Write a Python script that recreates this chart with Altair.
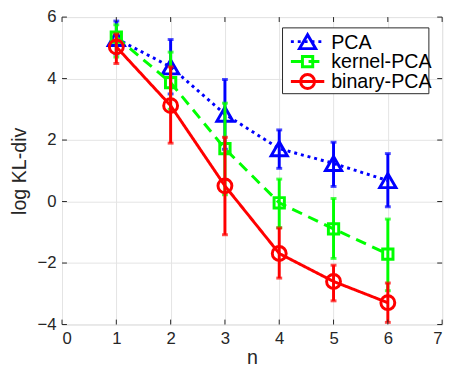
import altair as alt
import pandas as pd

n = [1, 2, 3, 4, 5, 6]
series_names = ["PCA", "kernel-PCA", "binary-PCA"]
pca_mean = [5.30, 4.38, 2.84, 1.72, 1.24, 0.68]
pca_lo = [4.80, 3.50, 1.70, 1.08, 0.49, -0.17]
pca_hi = [5.87, 5.27, 3.97, 2.33, 1.93, 1.56]
kpca_mean = [5.35, 3.87, 1.72, -0.04, -0.89, -1.71]
kpca_lo = [4.70, 3.00, 0.22, -0.85, -1.85, -2.90]
kpca_hi = [5.75, 4.86, 3.20, 0.73, 0.10, -0.57]
bpca_mean = [5.03, 3.12, 0.51, -1.69, -2.60, -3.29]
bpca_lo = [4.49, 1.90, -1.08, -2.49, -3.23, -3.93]
bpca_hi = [5.45, 4.38, 2.09, -0.86, -2.07, -2.65]
x_ticks = [0, 1, 2, 3, 4, 5, 6, 7]
y_ticks = [-4, -2, 0, 2, 4, 6]

W, H = 387, 313
FONT = "Liberation Sans"
TXT = "#262626"

styles = {
    "PCA": dict(color="#0000ff", dash=[3, 4], shape="triangle-up", size=270),
    "kernel-PCA": dict(color="#00ff00", dash=[11, 7], shape="square", size=110),
    "binary-PCA": dict(color="#ff0000", dash=[1, 0], shape="circle", size=200),
}
means = [pca_mean, kpca_mean, bpca_mean]
los = [pca_lo, kpca_lo, bpca_lo]
his = [pca_hi, kpca_hi, bpca_hi]

xs = alt.Scale(domain=[0, 7], nice=False, zero=False)
ys = alt.Scale(domain=[-4, 6], nice=False, zero=False)

xaxis = alt.Axis(values=x_ticks, grid=True, gridColor="#e3e3e3", domain=False, ticks=False,
                 labelFont=FONT, labelFontSize=17, labelColor=TXT, labelPadding=6,
                 title="n", titleFont=FONT, titleFontSize=20, titleFontWeight="normal",
                 titleColor=TXT, titlePadding=2, format="d")
yaxis = alt.Axis(values=y_ticks, grid=True, gridColor="#e3e3e3", domain=False, ticks=False,
                 labelFont=FONT, labelFontSize=17, labelColor=TXT, labelPadding=6,
                 title="log KL-div", titleFont=FONT, titleFontSize=20, titleFontWeight="normal",
                 titleColor=TXT, titlePadding=8, format="d")

layers = []
axis_df = pd.DataFrame({"n": [0], "v": [0]})
layers.append(alt.Chart(axis_df).mark_point(opacity=0).encode(
    x=alt.X("n:Q", scale=xs, axis=xaxis), y=alt.Y("v:Q", scale=ys, axis=yaxis)))

for name, m, lo, hi in zip(series_names, means, los, his):
    st = styles[name]
    df = pd.DataFrame({"n": n, "mean": m, "lo": lo, "hi": hi})
    base = alt.Chart(df)
    layers.append(base.mark_rule(color=st["color"], strokeWidth=3).encode(
        x=alt.X("n:Q", scale=xs), y=alt.Y("lo:Q", scale=ys), y2="hi:Q"))
    for col in ["lo", "hi"]:
        layers.append(base.mark_tick(color=st["color"], orient="horizontal", size=6, thickness=3).encode(
            x=alt.X("n:Q", scale=xs), y=alt.Y(f"{col}:Q", scale=ys)))
    layers.append(base.mark_line(color=st["color"], strokeWidth=3, strokeDash=st["dash"]).encode(
        x=alt.X("n:Q", scale=xs), y=alt.Y("mean:Q", scale=ys)))
    layers.append(base.mark_point(color=st["color"], shape=st["shape"], size=st["size"],
                                  filled=False, strokeWidth=3, opacity=1).encode(
        x=alt.X("n:Q", scale=xs), y=alt.Y("mean:Q", scale=ys)))

xt = pd.DataFrame({"t": x_ticks})
yt = pd.DataFrame({"t": y_ticks})
layers.append(alt.Chart(xt).mark_rule(color=TXT, strokeWidth=1).encode(
    x=alt.X("t:Q", scale=xs), y=alt.value(H), y2=alt.value(H - 5)))
layers.append(alt.Chart(xt).mark_rule(color=TXT, strokeWidth=1).encode(
    x=alt.X("t:Q", scale=xs), y=alt.value(0), y2=alt.value(5)))
layers.append(alt.Chart(yt).mark_rule(color=TXT, strokeWidth=1).encode(
    y=alt.Y("t:Q", scale=ys), x=alt.value(0), x2=alt.value(5)))
layers.append(alt.Chart(yt).mark_rule(color=TXT, strokeWidth=1).encode(
    y=alt.Y("t:Q", scale=ys), x=alt.value(W), x2=alt.value(W - 5)))

one = pd.DataFrame({"a": [0]})
lx0, lx1, ly0, ly1 = 224.5, 373.5, 11, 78
layers.append(alt.Chart(one).mark_rect(fill="white", stroke=TXT, strokeWidth=1).encode(
    x=alt.value(lx0), x2=alt.value(lx1), y=alt.value(ly0), y2=alt.value(ly1)))
for i, name in enumerate(series_names):
    st = styles[name]
    yy = 25 + i * 20.3
    layers.append(alt.Chart(one).mark_rule(color=st["color"], strokeWidth=3, strokeDash=st["dash"]).encode(
        x=alt.value(233), x2=alt.value(267), y=alt.value(yy)))
    layers.append(alt.Chart(one).mark_point(color=st["color"], shape=st["shape"], size=st["size"],
                                           filled=False, strokeWidth=3, opacity=1).encode(
        x=alt.value(250), y=alt.value(yy)))
    layers.append(alt.Chart(one).mark_text(align="left", baseline="middle", font=FONT, fontSize=20,
                                          color="black").encode(
        x=alt.value(274), y=alt.value(yy + 1), text=alt.value(name)))

chart = alt.layer(*layers).properties(
    width=W, height=H,
    autosize=alt.AutoSizeParams(type="none"),
    padding={"left": 55, "top": 6, "right": 8, "bottom": 40},
).configure_view(stroke=TXT, strokeWidth=1).configure(background="white")

chart.save("out.html", embed_options={"renderer": "svg", "actions": False})
